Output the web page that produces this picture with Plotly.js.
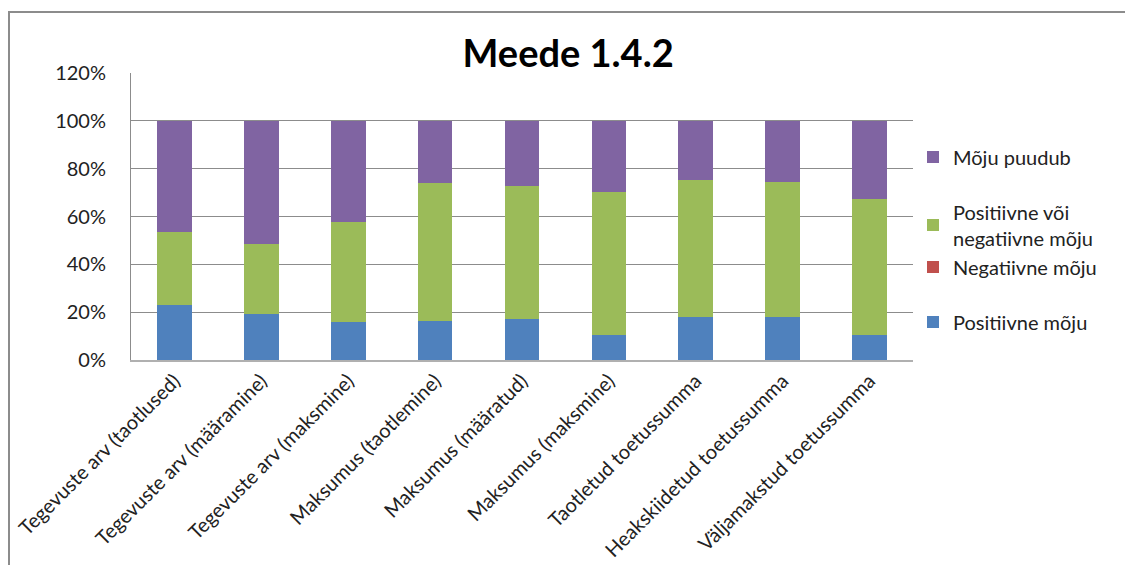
<!DOCTYPE html>
<html>
<head>
<meta charset="utf-8">
<script src="https://cdn.plot.ly/plotly-3.0.1.min.js"></script>
<style>
  html, body { margin: 0; padding: 0; background: #fff; overflow: hidden; }
  #frame { position: absolute; left: 8px; top: 11px; width: 1200px; height: 600px; border: 2px solid #8c8c8c; }
  #chart { position: absolute; left: 0; top: 0; width: 1125px; height: 565px; }
</style>
</head>
<body>
<div id="frame"></div>
<div id="chart"></div>
<script>
const categories = [
  "Tegevuste arv (taotlused)",
  "Tegevuste arv (määramine)",
  "Tegevuste arv (maksmine)",
  "Maksumus (taotlemine)",
  "Maksumus (määratud)",
  "Maksumus (maksmine)",
  "Taotletud toetussumma",
  "Heakskiidetud toetussumma",
  "Väljamakstud toetussumma"
];
const positiivne = [0.228, 0.193, 0.157, 0.165, 0.171, 0.104, 0.179, 0.179, 0.104];
const negatiivne = [0, 0, 0, 0, 0, 0, 0, 0, 0];
const posVoiNeg  = [0.307, 0.292, 0.421, 0.575, 0.555, 0.600, 0.574, 0.566, 0.570];
const puudub     = [0.465, 0.515, 0.422, 0.260, 0.274, 0.296, 0.247, 0.255, 0.326];

const seriesNames = ["Positiivne mõju", "Negatiivne mõju", "Positiivne või<br>negatiivne mõju", "Mõju puudub"];
const seriesColors = ["#4f81bd", "#c0504d", "#9bbb59", "#8064a2"];
const seriesValues = [positiivne, negatiivne, posVoiNeg, puudub];
const seriesRanks = [4, 3, 2, 1];
const seriesGroups = ["gA", "gB", "gB", "gC"];

const traces = seriesValues.map((vals, i) => ({
  type: "bar",
  x: categories,
  y: vals,
  name: seriesNames[i],
  legendgroup: seriesGroups[i],
  legendrank: seriesRanks[i],
  marker: { color: seriesColors[i], line: { width: 0 } },
  hoverinfo: "x+y+name"
}));

const font = "Lato, 'Open Sans', sans-serif";

const layout = {
  width: 1125,
  height: 565,
  paper_bgcolor: "rgba(0,0,0,0)",
  plot_bgcolor: "rgba(0,0,0,0)",
  barmode: "stack",
  bargap: 0.6,
  margin: { l: 131, r: 212, t: 73, b: 205 },
  font: { family: font, color: "#222" },
  title: {
    text: "<b>Meede 1.4.2</b>",
    font: { size: 38, family: font, color: "#000" },
    x: 0.505, xanchor: "center",
    y: 0.905, yanchor: "middle"
  },
  xaxis: {
    type: "category",
    tickangle: -45,
    tickfont: { size: 20, family: font, color: "#222" },
    showline: true,
    linecolor: "#b0b0b0",
    linewidth: 1.5,
    showgrid: false,
    ticks: ""
  },
  yaxis: {
    range: [0, 1.2],
    dtick: 0.2,
    tickformat: ".0%",
    tickfont: { size: 20, family: font, color: "#222" },
    showgrid: true,
    gridcolor: "#8c8c8c",
    gridwidth: 1,
    showline: true,
    linecolor: "#8c8c8c",
    linewidth: 1,
    zeroline: false,
    ticks: "",
    ticklabelstandoff: 20
  },
  legend: {
    x: 1.0, xanchor: "left",
    y: 0.775, yanchor: "top",
    traceorder: "grouped",
    tracegroupgap: 26,
    font: { size: 20, family: font, color: "#222" },
    itemwidth: 30,
    bgcolor: "rgba(0,0,0,0)"
  },
  showlegend: true
};

Plotly.newPlot("chart", traces, layout, { displayModeBar: false, staticPlot: true });
</script>
</body>
</html>
